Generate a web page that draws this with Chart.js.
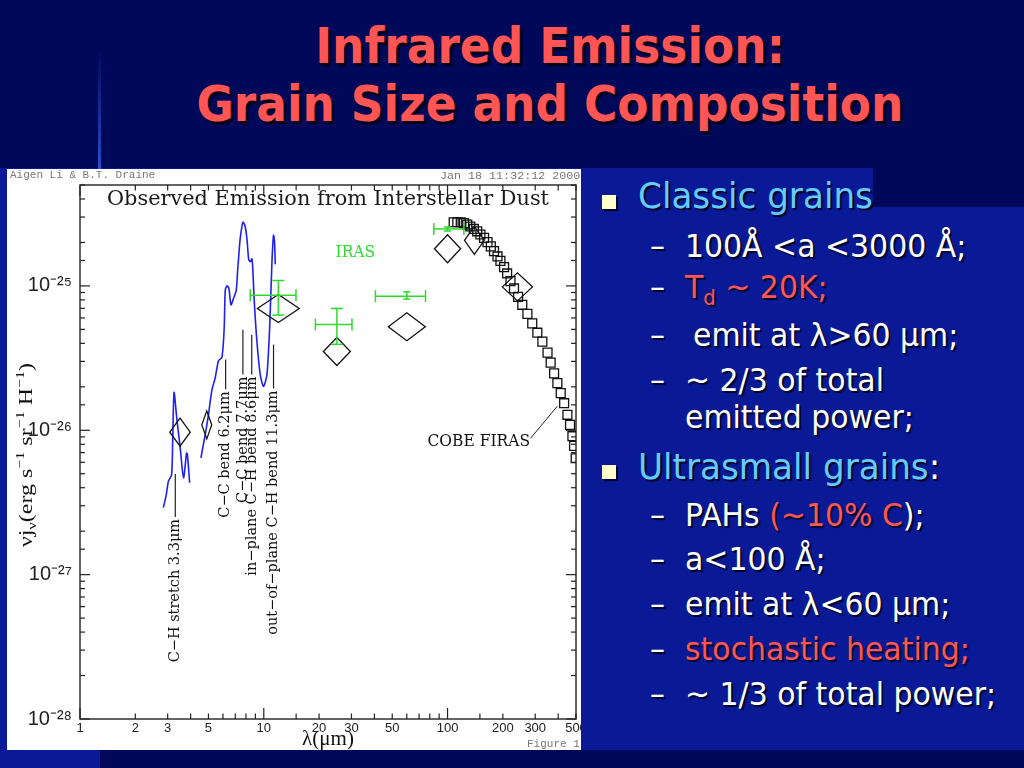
<!DOCTYPE html>
<html>
<head>
<meta charset="utf-8">
<script src="https://cdn.jsdelivr.net/npm/chart.js@4.4.1/dist/chart.umd.min.js"></script>
<style>
  html, body { margin: 0; padding: 0; }
  body { width: 1024px; height: 768px; position: relative; overflow: hidden; background: #00085a; font-family: "DejaVu Sans", sans-serif; }
  .bg { position: absolute; background: #0a1a96; }
  .vline { position: absolute; left: 98px; top: 50px; width: 3px; height: 157px; background: linear-gradient(to bottom, rgba(60,110,255,0), rgba(60,110,255,0.9)); }
  .title { position: absolute; left: 0; width: 1100px; text-align: center; font-weight: bold; font-size: 50px; line-height: 50px; color: #ff5555; text-shadow: 3px 3px 1px #000018; transform: scaleX(0.91); transform-origin: 550px 0; white-space: nowrap; }
  #panel { position: absolute; left: 7px; top: 169px; width: 574px; height: 581px; background: #fff; overflow: hidden; }
  #panel canvas { position: absolute; left: 0; top: 0; }
  .stamp { position: absolute; font-family: "Liberation Mono", monospace; color: #777; white-space: nowrap; }
  .txt { position: absolute; white-space: nowrap; color: #fff; text-shadow: 2px 2px 1px rgba(0,0,20,0.85); transform-origin: 0 0; }
  .head { font-size: 36px; line-height: 36px; color: #66ccff; transform: scaleX(0.95); }
  .sub { font-size: 32px; line-height: 32px; transform: scaleX(0.935); }
  .red { color: #ff5555; }
  .blt { position: absolute; width: 14px; height: 14px; background: #ffffcc; box-shadow: 2px 2px 1px rgba(0,0,20,0.8); }
</style>
</head>
<body>
<div class="bg" style="left:0;top:207px;width:1024px;height:543px"></div>
<div class="bg" style="left:0;top:168px;width:873px;height:40px"></div>
<div class="bg" style="left:0;top:749px;width:100px;height:19px"></div>
<div class="vline"></div>

<div class="title" style="top:21px">Infrared Emission:</div>
<div class="title" style="top:79px">Grain Size and Composition</div>

<div id="panel">
  <canvas id="sed"></canvas>
  <div class="stamp" style="left:3px;top:0px;font-size:11px">Aigen Li &amp; B.T. Draine</div>
  <div class="stamp" style="left:433px;top:0px;font-size:11.7px">Jan 18 11:32:12 2000</div>
  <div class="stamp" style="left:520px;top:569px;font-size:11px">Figure 1</div>
</div>

<div class="blt" style="left:602px;top:195px"></div>
<div class="txt head" style="left:638px;top:178px">Classic grains</div>
<div class="txt sub" style="left:650px;top:230px">–</div>
<div class="txt sub" style="left:685px;top:230px">100Å &lt;a &lt;3000 Å;</div>
<div class="txt sub" style="left:650px;top:271px">–</div>
<div class="txt sub red" style="left:685px;top:271px">T<span style="font-size:21px;position:relative;top:7px">d</span> ~ 20K;</div>
<div class="txt sub" style="left:650px;top:319px">–</div>
<div class="txt sub" style="left:693px;top:319px">emit at λ&gt;60 µm;</div>
<div class="txt sub" style="left:650px;top:364px">–</div>
<div class="txt sub" style="left:685px;top:364px">~ 2/3 of total</div>
<div class="txt sub" style="left:685px;top:401px">emitted power;</div>

<div class="blt" style="left:602px;top:465px"></div>
<div class="txt head" style="left:638px;top:449px">Ultrasmall grains<span style="color:#fff">:</span></div>
<div class="txt sub" style="left:650px;top:499px">–</div>
<div class="txt sub" style="left:685px;top:499px">PAHs <span class="red">(~10% C</span>);</div>
<div class="txt sub" style="left:650px;top:543px">–</div>
<div class="txt sub" style="left:685px;top:543px">a&lt;100 Å;</div>
<div class="txt sub" style="left:650px;top:588px">–</div>
<div class="txt sub" style="left:685px;top:588px">emit at λ&lt;60 µm;</div>
<div class="txt sub" style="left:650px;top:633px">–</div>
<div class="txt sub red" style="left:685px;top:633px">stochastic heating;</div>
<div class="txt sub" style="left:650px;top:678px">–</div>
<div class="txt sub" style="left:685px;top:678px">~ 1/3 of total power;</div>

<script>
// observed PAH spectrum (blue), two pieces with a gap near 4.2 um
const pahShortWave = [2.84, 2.94, 3.03, 3.15, 3.2, 3.25, 3.36, 3.51, 3.66, 3.8, 3.84, 3.95];
const pahShortFlux = [2.91e-27, 3.51e-27, 4.45e-27, 4.9e-27, 9.4e-27, 1.83e-26, 1.22e-26, 7.55e-27, 4.69e-27, 6.94e-27, 6.8e-27, 4.33e-27];
const pahLongWave = [4.55, 4.8, 5.0, 5.22, 5.44, 5.67, 5.92, 6.09, 6.17, 6.3, 6.46, 6.63, 6.85, 7.08, 7.2, 7.29, 7.44, 7.7, 7.9, 8.1,
  8.27, 8.44, 8.62, 8.73, 8.88, 9.18, 9.57, 9.97, 10.4, 10.76, 11.08, 11.3, 11.45, 11.55];
const pahLongFlux = [6.44e-27, 9.34e-27, 1.28e-26, 1.9e-26, 2.3e-26, 3.03e-26, 3.2e-26, 5.1e-26, 9.3e-26, 1.0e-25, 9.6e-26, 7.4e-26, 8.2e-26, 9.3e-26, 1.25e-25, 1.54e-25, 2.12e-25, 2.76e-25, 2.62e-25, 2.12e-25,
  1.54e-25, 1.47e-25, 1.54e-25, 1.25e-25, 7.76e-26, 4.1e-26, 2.42e-26, 2.01e-26, 2.42e-26, 5.08e-26, 1.47e-25, 2.24e-25, 2.01e-25, 1.41e-25];

// COBE FIRAS spectrum (open squares)
const firasWave = [108, 113, 118, 123, 128, 133, 139, 145, 151, 158, 165, 172, 179, 187, 194, 203, 211, 220, 230, 242,
  255, 272, 289, 308, 328, 350, 364, 380, 396, 413, 431, 449, 464, 478, 488, 498];
const firasFlux = [2.76e-25, 2.76e-25, 2.76e-25, 2.72e-25, 2.66e-25, 2.58e-25, 2.48e-25, 2.39e-25, 2.27e-25, 2.15e-25, 2.01e-25, 1.88e-25, 1.74e-25, 1.6e-25, 1.49e-25, 1.35e-25, 1.22e-25, 1.08e-25, 9.6e-26, 8.4e-26,
  7.4e-26, 6.4e-26, 5.5e-26, 4.74e-26, 4.11e-26, 3.45e-26, 2.94e-26, 2.48e-26, 2.12e-26, 1.81e-26, 1.54e-26, 1.28e-26, 1.09e-26, 9.1e-27, 7.8e-27, 6.4e-27];

// model band fluxes (diamonds), band edges in um
const modelWave = [3.5, 4.9, 12, 25, 60, 100, 140, 240];
const modelFlux = [9.7e-27, 1.09e-26, 6.98e-26, 3.51e-26, 5.21e-26, 1.81e-25, 2.07e-25, 9.85e-26];
const modelBandLo = [3.08, 4.6, 9.23, 21.1, 47.6, 84.9, 123.6, 198.7];
const modelBandHi = [3.98, 5.21, 15.6, 29.6, 75.7, 117.8, 158.5, 289.8];

// IRAS photometry (green crosses)
const irasWave = [12, 25, 60, 100];
const irasFlux = [8.63e-26, 5.41e-26, 8.49e-26, 2.48e-25];
const irasFluxLo = [6.28e-26, 3.94e-26, 8.1e-26, 2.4e-25];
const irasFluxHi = [1.09e-25, 6.98e-26, 9.1e-26, 2.56e-25];
const irasBandLo = [8.44, 19.1, 40.5, 84.2];
const irasBandHi = [14.97, 30.2, 75.9, 122.7];

// PAH feature labels
const featureWave = [3.3, 6.2, 7.7, 8.6, 11.3];
const featureLabels = ["C\u2212H stretch 3.3\u03bcm", "C\u2212C bend 6.2\u03bcm", "C\u2212C bend 7.7\u03bcm",
  "in\u2212plane C\u2212H bend 8.6\u03bcm", "out\u2212of\u2212plane C\u2212H bend 11.3\u03bcm"];
// where the leader lines sit (flux units)
const featureLineTop = [4.97e-27, 3.09e-26, 4.97e-26, 4.59e-26, 3.92e-26];
const featureLineBottom = [2.51e-27, 1.92e-26, 2.43e-26, 2.43e-26, 1.95e-26];

const xTickLabels = [1, 2, 3, 5, 10, 20, 30, 50, 100, 200, 300, 500];
const yTickLabels = [1e-28, 1e-27, 1e-26, 1e-25];

const SUP = { "-": "\u207b", "0": "\u2070", "1": "\u00b9", "2": "\u00b2", "3": "\u00b3", "4": "\u2074", "5": "\u2075", "6": "\u2076", "7": "\u2077", "8": "\u2078", "9": "\u2079" };
const isDecade = (v) => Math.abs(Math.log10(v) - Math.round(Math.log10(v))) < 1e-6;
const same = (a, b) => Math.abs(a / b - 1) < 1e-6;

const IRAS_GREEN = "#2fd82f";
const DIAMOND_H = 14;
const PLOT_FONT = '"DejaVu Serif"';

function seg(ctx, x1, y1, x2, y2) {
  ctx.beginPath();
  ctx.moveTo(x1, y1);
  ctx.lineTo(x2, y2);
  ctx.stroke();
}

// keep the plot box where the figure has it
function noPad(s) {
  s.paddingLeft = 0;
  s.paddingRight = 0;
  s.paddingTop = 0;
  s.paddingBottom = 0;
}

const overlay = {
  id: "overlay",
  afterDatasetsDraw(chart) {
    const { ctx, chartArea: a, scales: { x, y } } = chart;
    ctx.save();

    // model diamonds, width = band
    ctx.strokeStyle = "#111";
    ctx.lineWidth = 1.3;
    modelWave.forEach((w, i) => {
      const l = x.getPixelForValue(modelBandLo[i]);
      const r = x.getPixelForValue(modelBandHi[i]);
      const cx = (l + r) / 2;
      const cy = y.getPixelForValue(modelFlux[i]);
      ctx.beginPath();
      ctx.moveTo(l, cy);
      ctx.lineTo(cx, cy - DIAMOND_H);
      ctx.lineTo(r, cy);
      ctx.lineTo(cx, cy + DIAMOND_H);
      ctx.closePath();
      ctx.stroke();
    });

    // IRAS crosses
    ctx.strokeStyle = IRAS_GREEN;
    ctx.lineWidth = 1.5;
    irasWave.forEach((w, i) => {
      const cx = x.getPixelForValue(w);
      const cy = y.getPixelForValue(irasFlux[i]);
      const l = x.getPixelForValue(irasBandLo[i]);
      const r = x.getPixelForValue(irasBandHi[i]);
      const t = y.getPixelForValue(irasFluxHi[i]);
      const b = y.getPixelForValue(irasFluxLo[i]);
      const cap = (b - t) < 14 ? 3.5 : 6;
      seg(ctx, l, cy, r, cy);
      seg(ctx, l, cy - 6, l, cy + 6);
      seg(ctx, r, cy - 6, r, cy + 6);
      seg(ctx, cx, t, cx, b);
      seg(ctx, cx - cap, t, cx + cap, t);
      seg(ctx, cx - cap, b, cx + cap, b);
    });

    // feature labels
    ctx.strokeStyle = "#222";
    ctx.fillStyle = "#111";
    ctx.lineWidth = 1.2;
    ctx.font = "14.5px " + PLOT_FONT;
    featureWave.forEach((w, i) => {
      const fx = x.getPixelForValue(w);
      const top = y.getPixelForValue(featureLineTop[i]);
      const bot = y.getPixelForValue(featureLineBottom[i]);
      seg(ctx, fx, top, fx, bot);
      ctx.save();
      ctx.translate(fx, bot + 2);
      ctx.rotate(-Math.PI / 2);
      ctx.textAlign = "right";
      ctx.textBaseline = "middle";
      ctx.fillText(featureLabels[i], 0, 0);
      ctx.restore();
    });

    // in-plot texts
    ctx.textBaseline = "middle";
    ctx.textAlign = "center";
    ctx.fillStyle = "#1a1a1a";
    ctx.save();
    ctx.translate((a.left + a.right) / 2, a.top + 15);
    ctx.font = "17px " + PLOT_FONT;
    const tw = ctx.measureText("Observed Emission from Interstellar Dust").width;
    ctx.scale(442 / tw, 1.15);
    ctx.fillText("Observed Emission from Interstellar Dust", 0, 0);
    ctx.restore();

    ctx.save();
    ctx.fillStyle = IRAS_GREEN;
    ctx.font = "15.5px " + PLOT_FONT;
    ctx.translate(x.getPixelForValue(31.5), y.getPixelForValue(1.71e-25));
    ctx.scale(1, 1.1);
    ctx.fillText("IRAS", 0, 0);
    ctx.restore();

    ctx.save();
    ctx.fillStyle = "#111";
    ctx.textAlign = "left";
    ctx.font = "15.5px " + PLOT_FONT;
    ctx.translate(x.getPixelForValue(77.8), y.getPixelForValue(8.4e-27));
    ctx.scale(1, 1.1);
    ctx.fillText("COBE FIRAS", 0, 0);
    ctx.restore();
    ctx.strokeStyle = "#222";
    ctx.lineWidth = 1;
    seg(ctx, x.getPixelForValue(283), y.getPixelForValue(8.8e-27), x.getPixelForValue(396), y.getPixelForValue(1.47e-26));

    // frame with inward ticks on all four sides
    ctx.strokeStyle = "#222";
    ctx.lineWidth = 1.4;
    ctx.strokeRect(a.left, a.top, a.right - a.left, a.bottom - a.top);
    ctx.lineWidth = 1.2;
    x.ticks.forEach((t) => {
      const px = x.getPixelForValue(t.value);
      const len = isDecade(t.value) ? 11 : 5.5;
      seg(ctx, px, a.bottom, px, a.bottom - len);
      seg(ctx, px, a.top, px, a.top + len);
    });
    y.ticks.forEach((t) => {
      const py = y.getPixelForValue(t.value);
      const len = isDecade(t.value) ? 10 : 5;
      seg(ctx, a.left, py, a.left + len, py);
      seg(ctx, a.right, py, a.right - len, py);
    });

    // y title with sub/superscripts
    const parts = [
      ["\u03bdj", 24, 0], ["\u03bd", 16, 5], ["(erg s", 24, 0], ["\u22121", 16, -10],
      [" sr", 24, 0], ["\u22121", 16, -10], [" H", 24, 0], ["\u22121", 16, -10], [")", 24, 0]
    ];
    let total = 0;
    parts.forEach((p) => { ctx.font = p[1] + 'px "Liberation Serif"'; total += ctx.measureText(p[0]).width; });
    ctx.save();
    ctx.translate(25, (a.top + a.bottom) / 2 + 3);
    ctx.rotate(-Math.PI / 2);
    ctx.scale(1, 0.78);
    ctx.textAlign = "left";
    ctx.textBaseline = "alphabetic";
    ctx.fillStyle = "#111";
    let pos = -total / 2;
    parts.forEach((p) => {
      ctx.font = p[1] + 'px "Liberation Serif"';
      ctx.fillText(p[0], pos, p[2]);
      pos += ctx.measureText(p[0]).width;
    });
    ctx.restore();

    ctx.restore();
  }
};

new Chart(document.getElementById("sed"), {
  type: "scatter",
  data: {
    datasets: [
      {
        label: "PAH 3.3",
        type: "line",
        data: pahShortWave.map((w, i) => ({ x: w, y: pahShortFlux[i] })),
        borderColor: "#2020ee",
        borderWidth: 1.6,
        pointRadius: 0,
        tension: 0.25,
        fill: false
      },
      {
        label: "PAH 5-12",
        type: "line",
        data: pahLongWave.map((w, i) => ({ x: w, y: pahLongFlux[i] })),
        borderColor: "#2020ee",
        borderWidth: 1.6,
        pointRadius: 0,
        tension: 0.25,
        fill: false
      },
      {
        label: "COBE FIRAS",
        data: firasWave.map((w, i) => ({ x: w, y: firasFlux[i] })),
        pointStyle: "rect",
        pointRadius: 6.3,
        borderColor: "#111",
        backgroundColor: "rgba(255,255,255,0)",
        borderWidth: 1.3,
        clip: 0
      }
    ]
  },
  options: {
    responsive: true,
    maintainAspectRatio: false,
    animation: false,
    layout: { autoPadding: false, padding: { left: 0, right: 5, top: 16, bottom: 0 } },
    plugins: { legend: { display: false }, tooltip: { enabled: false } },
    scales: {
      x: {
        type: "logarithmic",
        min: 1,
        max: 500,
        grid: { display: false, drawTicks: false },
        border: { display: false },
        ticks: {
          autoSkip: false,
          maxRotation: 0,
          padding: 2,
          color: "#222",
          font: { family: "Liberation Sans", size: 13 },
          callback: (v) => {
            const hit = xTickLabels.find((l) => same(v, l));
            return hit ? String(hit) : "";
          }
        },
        title: {
          display: true,
          text: "\u03bb(\u03bcm)",
          color: "#111",
          padding: 0,
          font: { family: "Liberation Serif", size: 21, lineHeight: 1 }
        },
        afterFit: (s) => { s.height = 31; noPad(s); }
      },
      y: {
        type: "logarithmic",
        min: 1e-28,
        max: 5e-25,
        grid: { display: false, drawTicks: false },
        border: { display: false },
        ticks: {
          autoSkip: false,
          padding: 8,
          color: "#222",
          font: { family: "Liberation Sans", size: 20 },
          callback: (v) => {
            if (!yTickLabels.some((l) => same(v, l))) return "";
            const e = String(Math.round(Math.log10(v)));
            return "10" + e.split("").map((c) => SUP[c]).join("");
          }
        },
        afterFit: (s) => { s.width = 73; noPad(s); }
      }
    }
  },
  plugins: [overlay]
});
</script>
</body>
</html>
